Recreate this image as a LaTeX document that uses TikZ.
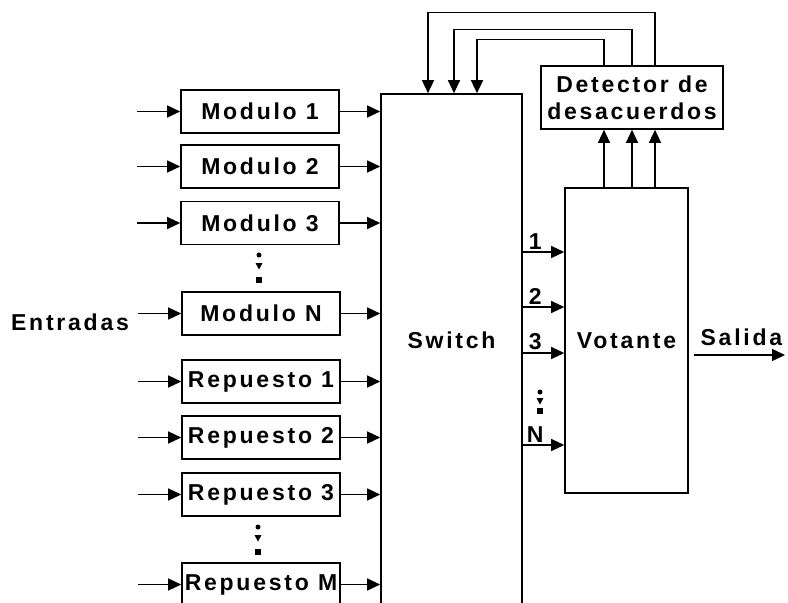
\documentclass[tikz,border=0pt]{standalone}
\usepackage{fontspec}
\setmainfont{Liberation Sans}[LetterSpace=12]
\usepackage{tikz}
\usetikzlibrary{arrows.meta,positioning,calc}

% puntos suspensivos verticales: x, y del punto, del triangulo y del cuadrado
\newcommand{\puntos}[4]{%
  \fill (#1,#2) circle (2.5);
  \fill (#1-3.5,#3-3) -- (#1+3.5,#3-3) -- (#1,#3+3.5) -- cycle;
  \fill (#1-3,#4-3) rectangle (#1+3,#4+3);}

\begin{document}
\begin{tikzpicture}[x=1pt, y=-1pt, line width=1.6pt,
    every node/.style={font=\fontsize{23}{27}\selectfont\bfseries},
    box/.style={draw, rectangle, minimum width=158pt, minimum height=43pt, inner sep=0pt},
    flow/.style={-{Triangle[length=13pt,width=12pt]}, line width=1.3pt}]
  \clip (0,0) rectangle (788,603);

  % modulos y repuestos
  \node (mod1) [box] at (260,111.5) {Modulo 1};
  \node (mod2) [box] at (260,166.5) {Modulo 2};
  \node (mod3) [box] at (260,223) {Modulo 3};
  \node (modN) [box] at (261,313.5) {Modulo N};
  \node (rep1) [box] at (261,381.5) {Repuesto 1};
  \node (rep2) [box] at (261,437.5) {Repuesto 2};
  \node (rep3) [box] at (261,494.5) {Repuesto 3};
  \node (repM) [box] at (261,584.5) {Repuesto M};
  \node (ent) at (70,322) {Entradas};
  \puntos{259}{255}{266}{280}
  \puntos{258}{527}{538}{552}

  % bloques centrales
  \node (sw) [draw, minimum width=141pt, minimum height=526pt, label={[yshift=17pt]center:Switch}] at (451.5,357) {};
  \node (vot) [draw, minimum width=123pt, minimum height=305pt] at (626.5,340.5) {Votante};
  \node (det) [draw, minimum width=182pt, minimum height=63pt, align=center, inner sep=1pt] at (632,97.5) {Detector de\\desacuerdos};

  % entradas y salidas de los modulos
  \foreach \n in {mod1,mod2,mod3,modN,rep1,rep2,rep3,repM} {
    \coordinate (in-\n) at ($(\n.west)+(-43,0)$);
    \draw [flow] (in-\n) -- (\n.west);
    \draw [flow] (\n.east) -- (\n.east -| sw.west);
  }

  % salidas del switch hacia el votante
  \foreach \y/\t in {252/1, 307/2, 353/3, 445/N} {
    \coordinate (r\t) at (0,\y);
    \draw [flow] (sw.east |- r\t) -- (vot.west |- r\t) node [pos=0.3, above=-1pt] {\t};
  }
  \puntos{540}{392}{401}{411}

  % votante -> detector
  \foreach \dx in {-22.5,5.5,28.5}
    \draw [flow] ([xshift=\dx pt]vot.north) -- ([xshift=\dx pt]vot.north |- det.south);

  % realimentacion detector -> switch
  \draw [flow] ([xshift=-28pt]det.north) -- ++(0,-26) -| ([xshift=25.5pt]sw.north);
  \draw [flow] ([xshift=0pt]det.north) -- ++(0,-36) -| ([xshift=2.5pt]sw.north);
  \draw [flow] ([xshift=23pt]det.north) -- ++(0,-53) -| ([xshift=-23.5pt]sw.north);

  % salida
  \coordinate (out) at (785,355);
  \coordinate (vot-out) at ($(vot.east |- out)+(5,0)$);
  \draw [flow] (vot-out) -- (out) node [midway, above=5pt, xshift=2pt] {Salida};
\end{tikzpicture}
\end{document}
